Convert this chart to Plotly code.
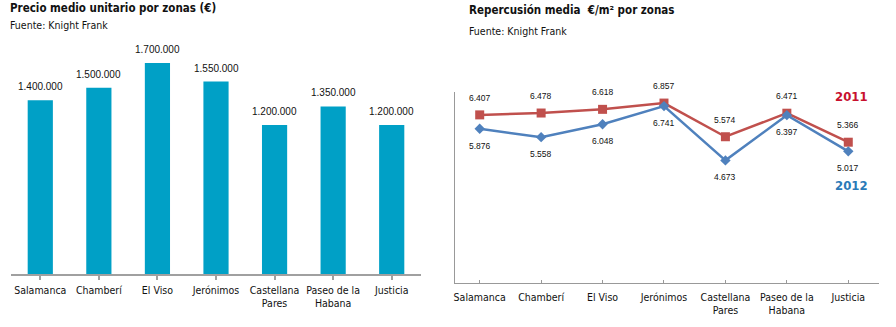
import plotly.graph_objects as go

# ---- data ----
zonas_bar = ["Salamanca", "Chamberí", "El Viso", "Jerónimos", "Castellana<br>Pares", "Paseo de la<br>Habana", "Justicia"]
precio_medio = [1400000, 1500000, 1700000, 1550000, 1200000, 1350000, 1200000]

zonas_line = ["Salamanca", "Chamberí", "El Viso", "Jerónimos", "Castellana<br>Pares", "Paseo de la<br>Habana", "Justicia"]
rep_2011 = [6407, 6478, 6618, 6857, 5574, 6471, 5366]
rep_2012 = [5876, 5558, 6048, 6741, 4673, 6397, 5017]

W, H = 896, 327
def px(x): return x / W
def py(y): return 1 - y / H

def fmt(v):
    return f"{v:,}".replace(",", ".")

FONT = "DejaVu Sans Condensed, Liberation Sans Narrow, sans-serif"
NUMFONT = "Liberation Sans, Arial, sans-serif"
BAR_COLOR = "#00a0c6"
RED = "#c0504d"
BLUE = "#4f81bd"

fig = go.Figure()

fig.add_trace(go.Bar(
    x=list(range(len(zonas_bar))), y=precio_medio,
    marker=dict(color=BAR_COLOR, line=dict(width=0)),
    xaxis="x", yaxis="y", showlegend=False, hoverinfo="skip",
))

fig.add_trace(go.Scatter(
    x=list(range(len(zonas_line))), y=rep_2011, mode="lines+markers",
    line=dict(color=RED, width=2.5),
    marker=dict(symbol="square", size=9, color=RED),
    xaxis="x2", yaxis="y2", showlegend=False, hoverinfo="skip",
))
fig.add_trace(go.Scatter(
    x=list(range(len(zonas_line))), y=rep_2012, mode="lines+markers",
    line=dict(color=BLUE, width=2.5),
    marker=dict(symbol="diamond", size=8, color=BLUE),
    xaxis="x2", yaxis="y2", showlegend=False, hoverinfo="skip",
))

ann = []
for i, v in enumerate(precio_medio):
    ann.append(dict(x=i, y=v, xref="x", yref="y", text=fmt(v), showarrow=False,
                    yanchor="bottom", yshift=6, font=dict(family=NUMFONT, size=10, color="#111")))
for i, v in enumerate(rep_2011):
    ann.append(dict(x=i, y=v, xref="x2", yref="y2", text=fmt(v), showarrow=False,
                    yshift=17, font=dict(family=NUMFONT, size=8.5, color="#111")))
for i, v in enumerate(rep_2012):
    ann.append(dict(x=i, y=v, xref="x2", yref="y2", text=fmt(v), showarrow=False,
                    yshift=-17, font=dict(family=NUMFONT, size=8.5, color="#111")))

# titles
ann += [
    dict(x=px(8), y=py(8), xref="paper", yref="paper", xanchor="left", yanchor="middle",
         text="<b>Precio medio unitario por zonas (€)</b>", showarrow=False,
         font=dict(family=FONT, size=11.5, color="#111")),
    dict(x=px(8), y=py(25), xref="paper", yref="paper", xanchor="left", yanchor="middle",
         text="Fuente: Knight Frank", showarrow=False,
         font=dict(family=FONT, size=10.5, color="#111")),
    dict(x=px(467), y=py(10), xref="paper", yref="paper", xanchor="left", yanchor="middle",
         text="<b>Repercusión media  €/m² por zonas</b>", showarrow=False,
         font=dict(family=FONT, size=11.5, color="#111")),
    dict(x=px(467), y=py(31), xref="paper", yref="paper", xanchor="left", yanchor="middle",
         text="Fuente: Knight Frank", showarrow=False,
         font=dict(family=FONT, size=10.5, color="#111")),
    dict(x=px(851), y=py(97), xref="paper", yref="paper", xanchor="center", yanchor="middle",
         text="<b>2011</b>", showarrow=False,
         font=dict(family=FONT, size=13, color="#c8102e")),
    dict(x=px(851), y=py(185), xref="paper", yref="paper", xanchor="center", yanchor="middle",
         text="<b>2012</b>", showarrow=False,
         font=dict(family=FONT, size=13, color="#2a7ab8")),
]

fig.update_layout(
    width=W, height=H,
    margin=dict(l=0, r=0, t=0, b=0),
    paper_bgcolor="white", plot_bgcolor="white",
    bargap=0.57,
    annotations=ann,
    xaxis=dict(domain=[px(11), px(421)], range=[-0.5, 6.5],
               tickmode="array", tickvals=list(range(7)), ticktext=zonas_bar,
               tickson="boundaries", ticks="outside", ticklen=4, tickcolor="#a0a0a0", tickwidth=1.5,
               showline=True, linecolor="#a0a0a0", linewidth=2, showgrid=False, zeroline=False,
               tickangle=0, automargin=False, ticklabelstandoff=1,
               tickfont=dict(family=FONT, size=10.5, color="#111"), anchor="y"),
    yaxis=dict(domain=[py(274), py(40)], range=[0, 1885000], visible=False,
               showgrid=False, zeroline=False, anchor="x", automargin=False),
    xaxis2=dict(domain=[px(455), px(879)], range=[-0.402, 6.5],
                tickmode="array", tickvals=list(range(7)), ticktext=zonas_line,
                tickson="boundaries", ticks="inside", ticklen=3, tickcolor="#999", tickwidth=1,
                showline=True, linecolor="#999", linewidth=1, showgrid=False, zeroline=False,
                tickangle=0, automargin=False, ticklabelstandoff=4,
                tickfont=dict(family=FONT, size=10.5, color="#111"), anchor="y2"),
    yaxis2=dict(domain=[py(283), py(92)], range=[0, 7279], showticklabels=False,
                showline=True, linecolor="#999", linewidth=1, ticks="",
                showgrid=False, zeroline=False, anchor="x2", automargin=False),
)

fig.write_html("out.html")
